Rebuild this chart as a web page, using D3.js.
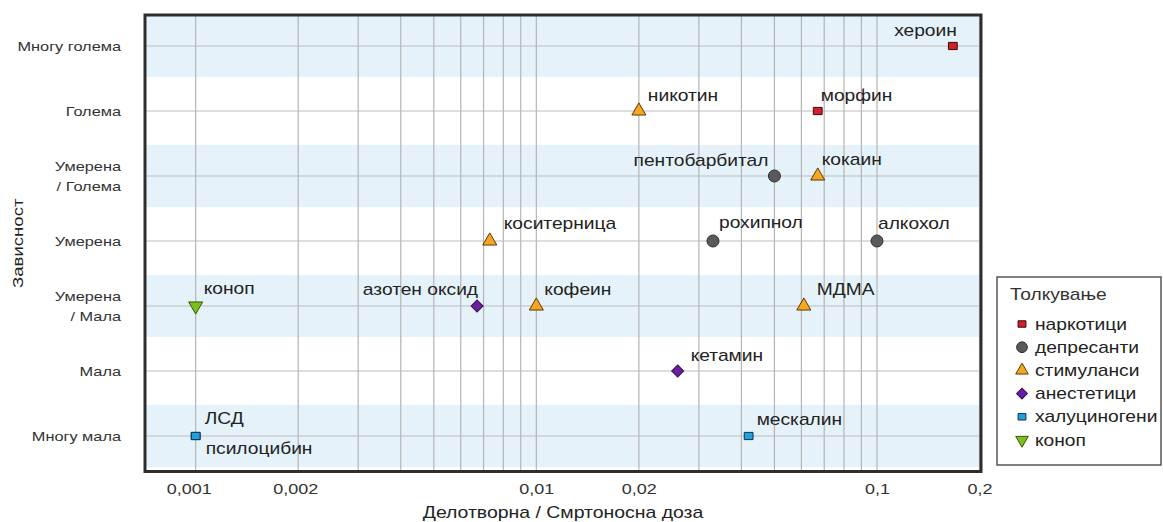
<!DOCTYPE html>
<html>
<head>
<meta charset="utf-8">
<script src="https://cdn.jsdelivr.net/npm/d3@7"></script>
<style>
  body { margin: 0; background: #fff; }
  svg { display: block; font-family: "Liberation Sans", Arial, sans-serif; }
</style>
</head>
<body>
<script>
// dependence levels, bottom to top
const levels = ["Многу мала", "Мала", "Умерена / Мала", "Умерена", "Умерена / Голема", "Голема", "Многу голема"];
const classes = ["наркотици", "депресанти", "стимуланси", "анестетици", "халуциногени", "коноп"];

const drugs      = ["хероин", "морфин", "никотин", "кокаин", "пентобарбитал", "коситерница", "рохипнол", "алкохол",
                    "коноп", "азотен оксид", "кофеин", "МДМА", "кетамин", "ЛСД", "псилоцибин", "мескалин"];
const ratio      = [0.167, 0.067, 0.02, 0.067, 0.05, 0.0073, 0.033, 0.1,
                    0.001, 0.0067, 0.01, 0.061, 0.026, 0.001, 0.001, 0.042];
const dependence = ["Многу голема", "Голема", "Голема", "Умерена / Голема", "Умерена / Голема", "Умерена", "Умерена", "Умерена",
                    "Умерена / Мала", "Умерена / Мала", "Умерена / Мала", "Умерена / Мала", "Мала", "Многу мала", "Многу мала", "Многу мала"];
const drugClass  = ["наркотици", "наркотици", "стимуланси", "стимуланси", "депресанти", "стимуланси", "депресанти", "депресанти",
                    "коноп", "анестетици", "стимуланси", "стимуланси", "анестетици", "халуциногени", "халуциногени", "халуциногени"];

const xTickValues = [0.001, 0.002, 0.01, 0.02, 0.1, 0.2];

// label offsets from the marker: dx, dy (baseline), anchor
const labelPos = {
  "хероин": [4, -10, "end"], "морфин": [3, -10, "start"], "никотин": [9, -10, "start"],
  "кокаин": [4, -11, "start"], "пентобарбитал": [-6, -10, "end"], "коситерница": [14, -12, "start"],
  "рохипнол": [6, -13, "start"], "алкохол": [1, -12, "start"], "коноп": [8, -12, "start"],
  "азотен оксид": [1, -11, "end"], "кофеин": [8, -11, "start"], "МДМА": [13, -11, "start"],
  "кетамин": [13, -10, "start"], "ЛСД": [9, -12, "start"], "псилоцибин": [10, 18, "start"],
  "мескалин": [8, -11, "start"]
};

const width = 1163, height = 522;
const frame = {left: 145, right: 981, top: 15, bottom: 471.5};
const sx = 1.2; // text in the reference is horizontally wide

const x = d3.scaleLog().domain([0.00071, 0.202]).range([frame.left, frame.right]);
const y = d3.scalePoint().domain(levels).range([frame.bottom - 35.5, frame.top + 31]);

const style = {
  "наркотици":    {type: "rect", fill: "#d0202c", stroke: "#3a0a0a"},
  "депресанти":   {type: "circle", fill: "#5a5a5a", stroke: "#2e2e2e"},
  "стимуланси":   {type: "tri", fill: "#f5a623", stroke: "#5a3a00"},
  "анестетици":   {type: "diamond", fill: "#6a1fa0", stroke: "#35104f"},
  "халуциногени": {type: "rect", fill: "#22a0dc", stroke: "#0a3550"},
  "коноп":        {type: "triDown", fill: "#7cbf1e", stroke: "#2f5a00"}
};

const rectSymbol = {
  draw(ctx, size) {
    const w = Math.sqrt(size) * 1.1, h = Math.sqrt(size) * 0.9;
    ctx.rect(-w / 2, -h / 2, w, h);
  }
};

function symbolPath(type, scale = 1) {
  switch (type) {
    case "rect": return d3.symbol(rectSymbol, 64 * scale)();
    case "circle": return d3.symbol(d3.symbolCircle, 113 * scale)();
    case "tri": return d3.symbol(d3.symbolTriangle, 85 * scale)();
    case "triDown": return d3.symbol(d3.symbolTriangle, 85 * scale)();
    case "diamond": return d3.symbol(d3.symbolSquare, 72 * scale)();
  }
}
function symbolRotate(type) {
  return type === "triDown" ? " rotate(180)" : type === "diamond" ? " rotate(45)" : "";
}

const svg = d3.select("body").append("svg")
    .attr("width", width)
    .attr("height", height);

svg.append("clipPath").attr("id", "plot-clip")
  .append("rect")
    .attr("x", frame.left).attr("y", frame.top)
    .attr("width", frame.right - frame.left)
    .attr("height", frame.bottom - frame.top);

const plot = svg.append("g").attr("clip-path", "url(#plot-clip)");

// alternating light blue bands
const bandH = y.step() * 0.955;
plot.append("g")
  .selectAll("rect")
  .data(levels.filter((d, i) => i % 2 === 0))
  .join("rect")
    .attr("x", frame.left)
    .attr("y", d => y(d) - bandH / 2)
    .attr("width", frame.right - frame.left)
    .attr("height", bandH)
    .attr("fill", "#e5f2f9");

// grid
const gridTicks = x.ticks().filter(d => d >= 0.001 - 1e-9);
plot.append("g")
    .attr("stroke", "#b4b4b4")
    .attr("stroke-width", 1.2)
  .selectAll("line")
  .data(gridTicks)
  .join("line")
    .attr("x1", d => x(d)).attr("x2", d => x(d))
    .attr("y1", frame.top).attr("y2", frame.bottom);

plot.append("g")
    .attr("stroke", "#bdbdbd")
    .attr("stroke-width", 1.2)
  .selectAll("line")
  .data(levels)
  .join("line")
    .attr("x1", frame.left).attr("x2", frame.right)
    .attr("y1", d => y(d)).attr("y2", d => y(d));

// frame
svg.append("rect")
    .attr("x", frame.left).attr("y", frame.top)
    .attr("width", frame.right - frame.left)
    .attr("height", frame.bottom - frame.top)
    .attr("fill", "none")
    .attr("stroke", "#2e2e2e")
    .attr("stroke-width", 3);

// x axis labels
const locale = d3.formatLocale({decimal: ",", thousands: ".", grouping: [3], currency: ["", ""]});
svg.append("g")
    .attr("transform", `translate(0,${frame.bottom + 4})`)
    .call(d3.axisBottom(x).tickValues(xTickValues).tickFormat(locale.format("~g")).tickSize(0).tickPadding(8))
    .call(g => g.select(".domain").remove())
    .call(g => g.selectAll("text")
        .attr("font-family", "Liberation Sans, Arial, sans-serif")
        .attr("font-size", 15)
        .attr("fill", "#333")
        .attr("transform", `scale(${sx},1)`)
        .attr("x", function(d) { return (d === 0.001 ? -7 : d === 0.002 ? -3 : 0) / sx; }));

// y axis labels
const yLab = svg.append("g")
    .attr("font-size", 13.6)
    .attr("fill", "#333")
    .attr("text-anchor", "end");
yLab.selectAll("text")
  .data(levels)
  .join("text")
    .attr("transform", d => `translate(121,${y(d) + 5}) scale(${sx},1)`)
    .each(function(d) {
      const parts = d.split(" / ");
      const t = d3.select(this);
      if (parts.length === 1) t.text(d);
      else {
        t.append("tspan").attr("x", 0).attr("y", -10).text(parts[0]);
        t.append("tspan").attr("x", 0).attr("y", 10).text("/ " + parts[1]);
      }
    });

// axis titles
svg.append("text")
    .attr("transform", `translate(${(frame.left + frame.right) / 2},${518}) scale(${sx},1)`)
    .attr("text-anchor", "middle")
    .attr("font-size", 16.2)
    .attr("fill", "#222")
    .text("Делотворна / Смртоносна доза");

svg.append("text")
    .attr("transform", `translate(23,${(frame.top + frame.bottom) / 2}) rotate(-90) scale(${sx},1)`)
    .attr("text-anchor", "middle")
    .attr("font-size", 15.5)
    .attr("fill", "#222")
    .text("Зависност");

// points
const pts = drugs.map((d, i) => ({name: d, ratio: ratio[i], dep: dependence[i], cls: drugClass[i]}));

svg.append("g")
  .selectAll("path")
  .data(pts)
  .join("path")
    .attr("transform", d => `translate(${x(d.ratio)},${y(d.dep)})` + symbolRotate(style[d.cls].type))
    .attr("d", d => symbolPath(style[d.cls].type))
    .attr("fill", d => style[d.cls].fill)
    .attr("stroke", d => style[d.cls].stroke)
    .attr("stroke-width", 1);

svg.append("g")
    .attr("font-size", 16)
    .attr("fill", "#222")
  .selectAll("text")
  .data(pts)
  .join("text")
    .attr("text-anchor", d => labelPos[d.name][2])
    .attr("transform", d => `translate(${x(d.ratio) + labelPos[d.name][0]},${y(d.dep) + labelPos[d.name][1]}) scale(${sx},1)`)
    .text(d => d.name);

// legend
const legend = svg.append("g").attr("transform", "translate(997,277)");
legend.append("rect")
    .attr("width", 164).attr("height", 188)
    .attr("fill", "#fff")
    .attr("stroke", "#555")
    .attr("stroke-width", 1.5);
legend.append("text")
    .attr("transform", `translate(13,23) scale(${sx},1)`)
    .attr("font-size", 16)
    .attr("fill", "#333")
    .text("Толкување");
const li = legend.selectAll(".item")
  .data(classes)
  .join("g")
    .attr("class", "item")
    .attr("transform", (d, i) => `translate(25,${47 + i * 23.2})`);
li.append("path")
    .attr("transform", d => symbolRotate(style[d].type).trim() || null)
    .attr("d", d => symbolPath(style[d].type, 0.8))
    .attr("fill", d => style[d].fill)
    .attr("stroke", d => style[d].stroke)
    .attr("stroke-width", 1);
li.append("text")
    .attr("transform", `translate(13,5.5) scale(${sx},1)`)
    .attr("font-size", 16)
    .attr("fill", "#222")
    .text(d => d);
</script>
</body>
</html>
